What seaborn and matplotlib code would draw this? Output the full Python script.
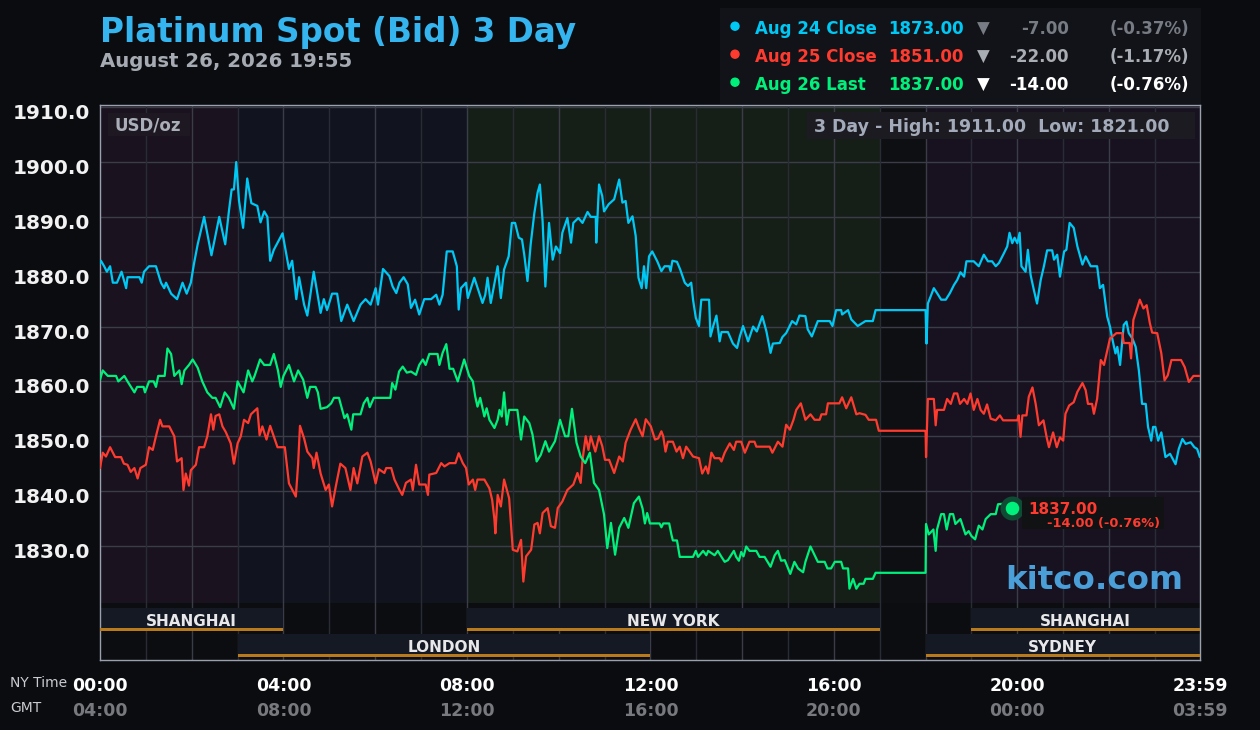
import matplotlib
matplotlib.use("Agg")
import matplotlib.pyplot as plt
import matplotlib.transforms as mtransforms
from matplotlib.patches import Rectangle, Ellipse
import seaborn as sns
import pandas as pd

# ---- price data, NY time (hours) vs USD/oz ----
aug24_t = [0.00, 0.02, 0.09, 0.15, 0.22, 0.28, 0.37, 0.47, 0.57, 0.60,
           0.86, 0.91, 0.96, 1.07, 1.22, 1.33, 1.40, 1.44, 1.55, 1.68,
           1.80, 1.89, 1.98, 2.05, 2.13, 2.27, 2.43, 2.60, 2.73, 2.81,
           2.87, 2.92, 2.97, 3.03, 3.12, 3.21, 3.30, 3.43, 3.50, 3.58,
           3.65, 3.71, 3.79, 3.98, 4.12, 4.19, 4.28, 4.34, 4.45, 4.52,
           4.66, 4.81, 4.88, 4.95, 5.06, 5.17, 5.26, 5.39, 5.53, 5.68,
           5.79, 5.90, 6.01, 6.06, 6.17,
           6.31, 6.38, 6.46, 6.53, 6.62, 6.71, 6.78, 6.87, 6.96, 7.07,
           7.22, 7.33, 7.40, 7.47, 7.56, 7.69, 7.78, 7.82, 7.87, 7.98,
           8.02, 8.16, 8.27, 8.34, 8.40, 8.45, 8.52, 8.67, 8.74, 8.81,
           8.91, 8.98, 9.05, 9.13, 9.20, 9.25, 9.32, 9.39, 9.47, 9.54,
           9.59, 9.65, 9.71, 9.79, 9.87, 9.94, 10.03, 10.08, 10.19, 10.27,
           10.32, 10.43, 10.52, 10.63, 10.70, 10.81, 10.82, 10.88, 10.95, 10.99,
           11.09, 11.21, 11.32, 11.39, 11.46, 11.52, 11.61, 11.68, 11.74, 11.81,
           11.86, 11.91, 11.97, 12.04, 12.15,
           12.24, 12.31, 12.41, 12.44, 12.48, 12.58, 12.65, 12.75, 12.82, 12.89,
           12.93, 12.99, 13.06, 13.11, 13.28, 13.31, 13.37, 13.44, 13.51, 13.55,
           13.69, 13.80, 13.89, 13.95, 14.02, 14.13, 14.24, 14.32, 14.44, 14.53,
           14.62, 14.67, 14.82, 14.88, 14.96, 15.09, 15.18, 15.25, 15.38, 15.43,
           15.52, 15.65, 15.91, 15.97, 16.05, 16.16, 16.18, 16.31, 16.38, 16.52,
           16.69, 16.85, 16.91, 16.98, 17.98, 18.00, 18.02, 18.05, 18.11, 18.18,
           18.25, 18.34, 18.44, 18.53, 18.62, 18.69, 18.76, 18.84, 18.89, 19.05,
           19.16, 19.27, 19.36, 19.45, 19.53, 19.60, 19.71, 19.78, 19.83, 19.89,
           19.94, 20.00, 20.05, 20.09, 20.18, 20.23, 20.29, 20.36, 20.43, 20.51,
           20.58, 20.65, 20.76, 20.80, 20.87, 20.93, 21.02, 21.07, 21.14, 21.23,
           21.31, 21.42, 21.49, 21.60, 21.74, 21.80, 21.87, 21.96, 22.02, 22.07,
           22.14, 22.18, 22.24, 22.32, 22.38, 22.43, 22.51, 22.58, 22.65, 22.72,
           22.80, 22.85, 22.92, 22.96, 23.01, 23.07, 23.14, 23.23, 23.33, 23.45,
           23.52, 23.60, 23.67, 23.78, 23.86, 23.92, 23.98]
aug24_v = [1881.5, 1882, 1881, 1880, 1881, 1878, 1878, 1880, 1877, 1879,
           1879, 1878, 1880, 1881, 1881, 1878, 1877, 1878, 1876, 1875,
           1878, 1876, 1878, 1881.5, 1885, 1890, 1883, 1890, 1885, 1891,
           1895, 1895, 1900, 1893, 1888, 1897, 1892.5, 1892, 1889, 1891,
           1890, 1882, 1884, 1887, 1880.5, 1882, 1875, 1879, 1874, 1872,
           1880, 1872.5, 1875, 1873, 1876, 1876, 1871, 1874, 1871, 1874,
           1875, 1874, 1877, 1874, 1880.5,
           1879.2, 1877.3, 1876.1, 1878, 1879, 1877.7, 1873.4, 1874.9, 1872.2, 1875,
           1875, 1875.8, 1874, 1875.8, 1883.7, 1883.7, 1881, 1873.1, 1877, 1878,
           1875.2, 1878.9, 1876.1, 1874.3, 1875.8, 1878.9, 1874.3, 1881, 1875.2, 1880.4,
           1882.8, 1888.9, 1888.9, 1886.2, 1885.9, 1883.1, 1878.3, 1885, 1890.7, 1894.4,
           1895.9, 1889.2, 1877.3, 1888.9, 1882.2, 1884.6, 1883.4, 1887.1, 1889.8, 1885.3,
           1888.9, 1889.8, 1888.9, 1890.9, 1890, 1890, 1885.3, 1895.9, 1893.8, 1891,
           1892.3, 1893.2, 1896.8, 1892.6, 1892.9, 1888.9, 1890.1, 1886.5, 1878.9, 1877,
           1881, 1877, 1882.8, 1883.7, 1881.9,
           1880.1, 1881, 1881, 1880.1, 1882, 1881.8, 1880.4, 1878, 1877.4, 1878,
           1874.9, 1871.6, 1870.1, 1874.9, 1874.9, 1868.2, 1870.1, 1872, 1867.3, 1869,
           1869, 1866.9, 1866.1, 1868.2, 1870.1, 1867.3, 1870, 1869.1, 1871.9, 1869.1,
           1865.2, 1866.9, 1867, 1868.1, 1868.8, 1871, 1870.4, 1872, 1871.9, 1869.5,
           1868.2, 1871, 1871, 1870.1, 1873, 1873, 1872.2, 1873, 1871.3, 1870.1,
           1871, 1871, 1873, 1873, 1873, 1873, 1866.9, 1874.2, 1875.5, 1877,
           1876.1, 1874.9, 1874.9, 1876.1, 1877.6, 1878.5, 1879.9, 1879.1, 1881.9, 1881.9,
           1881, 1883.1, 1881.9, 1881.9, 1881, 1881.6, 1883.4, 1884.6, 1887.1, 1885.2,
           1886.2, 1885.2, 1887.1, 1881, 1880, 1884, 1879.4, 1876.7, 1874.2, 1878.5,
           1881, 1883.9, 1883.9, 1882.2, 1883.1, 1879.1, 1883.7, 1884, 1888.9, 1888,
           1884.6, 1881.3, 1882.8, 1881, 1881, 1877, 1877.6, 1871.8, 1870, 1867.8,
           1865.1, 1866.3, 1863, 1870.3, 1870.9, 1868.8, 1867.8, 1866.3, 1862, 1855.9,
           1855.9, 1851.7, 1849.2, 1851.7, 1851.7, 1849.2, 1850.7, 1846.2, 1846.8, 1844.9,
           1847.7, 1849.5, 1848.6, 1848.9, 1848, 1847.7, 1846.2]

aug25_t = [0.00, 0.06, 0.13, 0.22, 0.33, 0.46, 0.52, 0.60, 0.67, 0.75,
           0.82, 0.88, 1.00, 1.07, 1.15, 1.22, 1.31, 1.36, 1.51, 1.62,
           1.68, 1.78, 1.82, 1.87, 1.94, 1.98, 2.09, 2.16, 2.27, 2.34,
           2.42, 2.47, 2.52, 2.60, 2.67, 2.74, 2.85, 2.92, 3.00, 3.07,
           3.14, 3.23, 3.29, 3.43, 3.48, 3.54, 3.63, 3.71, 3.87, 4.03,
           4.12, 4.27, 4.32, 4.36, 4.45, 4.52, 4.63, 4.66, 4.72, 4.81,
           4.92, 4.99, 5.06, 5.14, 5.24, 5.35, 5.46, 5.53, 5.61, 5.72,
           5.83, 5.90, 6.01, 6.08, 6.20, 6.24, 6.35, 6.42, 6.53, 6.59,
           6.67, 6.78, 6.82, 6.89, 6.96, 7.10, 7.15, 7.18, 7.33, 7.44,
           7.51, 7.62, 7.75, 7.82, 7.91, 7.98, 8.04, 8.13, 8.18, 8.23,
           8.38, 8.49, 8.55, 8.60, 8.62, 8.67, 8.74, 8.81, 8.92, 9.00,
           9.10, 9.18, 9.23, 9.29, 9.40, 9.47, 9.54, 9.59, 9.65, 9.76,
           9.83, 9.92, 9.98, 10.08, 10.19, 10.32, 10.41, 10.48, 10.52, 10.59,
           10.65, 10.70, 10.80, 10.88, 10.95, 11.01, 11.10, 11.21, 11.32, 11.40,
           11.46, 11.57, 11.68, 11.75, 11.83, 11.90, 12.01, 12.10, 12.17, 12.24,
           12.28, 12.33, 12.38, 12.49, 12.57, 12.64, 12.71, 12.78, 12.93, 13.06,
           13.13, 13.21, 13.26, 13.33, 13.40, 13.51, 13.55, 13.62, 13.73, 13.82,
           13.87, 13.98, 14.06, 14.16, 14.27, 14.31, 14.60, 14.66, 14.78, 14.88,
           14.96, 15.04, 15.12, 15.18, 15.28, 15.38, 15.49, 15.58, 15.69, 15.73,
           15.83, 15.87, 16.12, 16.18, 16.27, 16.38, 16.45, 16.49, 16.56, 16.69,
           16.76, 16.92, 16.98, 17.98, 18.00, 18.01, 18.05, 18.18, 18.22, 18.25,
           18.40, 18.47, 18.55, 18.62, 18.69, 18.75, 18.84, 18.91, 18.98, 19.05,
           19.13, 19.20, 19.27, 19.34, 19.42, 19.53, 19.62, 19.69, 20.00, 20.03,
           20.07, 20.11, 20.20, 20.25, 20.33, 20.40, 20.47, 20.57, 20.64, 20.69,
           20.78, 20.86, 20.93, 21.00, 21.05, 21.13, 21.23, 21.31, 21.42, 21.49,
           21.54, 21.63, 21.67, 21.74, 21.82, 21.89, 22.02, 22.16, 22.29, 22.32,
           22.45, 22.48, 22.53, 22.60, 22.67, 22.75, 22.82, 22.89, 22.94, 23.05,
           23.14, 23.21, 23.28, 23.36, 23.57, 23.65, 23.74, 23.84, 23.98]
aug25_v = [1844.2, 1847, 1846.3, 1848, 1846.2, 1846.2, 1845, 1844.8, 1843.5, 1844.2,
           1842.3, 1844.2, 1844.8, 1848, 1847.5, 1850, 1853, 1851.8, 1851.8, 1850,
           1845.4, 1846, 1840.2, 1843.2, 1841, 1843.8, 1844.8, 1848, 1848, 1850,
           1854, 1851.2, 1853.7, 1854, 1851.8, 1850.8, 1848.7, 1845, 1848.7, 1850,
           1853, 1852.4, 1854, 1855.1, 1850.2, 1851.8, 1849.4, 1851.9, 1848, 1848,
           1841.4, 1839, 1845, 1851.9, 1849.6, 1847.2, 1846, 1844.2, 1847, 1843.2,
           1840.2, 1841.2, 1837.2, 1840.8, 1845, 1844.2, 1840.2, 1844.2, 1841.4, 1846.3,
           1847, 1845.4, 1841.4, 1844, 1843.3, 1844.2, 1844.2, 1842.1, 1840.2, 1839.3,
           1841.5, 1842.1, 1840.2, 1844.8, 1841.2, 1841.2, 1839.3, 1843, 1843.3, 1845.1,
           1844.5, 1845.1, 1845.1, 1846.9, 1845.1, 1844.2, 1841.2, 1842.1, 1840.2, 1842.1,
           1842.1, 1840.5, 1838.4, 1834.8, 1832.3, 1839.3, 1837.2, 1842.1, 1838.7, 1829.3,
           1829, 1831.1, 1823.5, 1828.1, 1829.3, 1833.9, 1834.2, 1832.3, 1836, 1836.9,
           1833.6, 1833.3, 1836.9, 1838.1, 1840.2, 1841.2, 1843.3, 1841.5, 1845.7, 1850,
           1847.5, 1850, 1847.2, 1850, 1848.2, 1845.7, 1845.7, 1843.3, 1846.3, 1845.4,
           1848.8, 1851.2, 1853.1, 1851.5, 1850, 1853.1, 1851.8, 1849.4, 1849.6, 1850.9,
           1850, 1847.2, 1849, 1849, 1847.2, 1848.1, 1846, 1848.1, 1846.3, 1846,
           1843.2, 1844.5, 1843.2, 1847, 1846, 1846, 1845.4, 1847, 1848.7, 1847.5,
           1849, 1849, 1847, 1849, 1849, 1848.1, 1848.1, 1847, 1849, 1848.1,
           1852.1, 1851.2, 1853, 1854.8, 1856, 1853, 1854, 1853, 1853, 1854,
           1854, 1856, 1856, 1857.1, 1855.1, 1857.1, 1855.1, 1854, 1854.2, 1853.9,
           1853, 1853, 1851, 1851, 1850.9, 1846.2, 1856.8, 1856.8, 1852, 1854.8,
           1854.8, 1856.8, 1855.9, 1857.8, 1857.8, 1855.9, 1856.8, 1855.9, 1857.8, 1854.8,
           1856.8, 1854.8, 1854.1, 1855.8, 1853.2, 1852.9, 1853.8, 1852.9, 1852.9, 1853.8,
           1849.9, 1853.8, 1853.8, 1857.2, 1858.9, 1855.9, 1852, 1852.9, 1849.8, 1848,
           1850.7, 1848, 1849.8, 1849.2, 1854.1, 1855.6, 1856.2, 1858.1, 1859.7, 1858.4,
           1855.9, 1855.9, 1854.1, 1856.8, 1863.9, 1863, 1867.8, 1868.8, 1868.8, 1867,
           1867, 1864.2, 1871.2, 1873, 1874.9, 1873.3, 1873.9, 1870.6, 1868.9, 1868.8,
           1865.1, 1860.2, 1861.1, 1863.9, 1863.9, 1862.6, 1859.9, 1861, 1861]

aug26_t = [0.00, 0.06, 0.17, 0.35, 0.40, 0.53, 0.60, 0.75, 0.81, 0.95,
           0.98, 1.07, 1.17, 1.22, 1.27, 1.41, 1.47, 1.55, 1.62, 1.73,
           1.78, 1.84, 1.94, 2.02, 2.13, 2.23, 2.34, 2.45, 2.52, 2.62,
           2.72, 2.81, 2.92, 3.00, 3.13, 3.23, 3.32, 3.37, 3.49, 3.58,
           3.71, 3.79, 3.88, 3.94, 4.00, 4.12, 4.23, 4.32, 4.43, 4.52,
           4.58, 4.70, 4.75, 4.81, 4.95, 5.04, 5.10, 5.21, 5.33, 5.39,
           5.48, 5.52, 5.68, 5.75, 5.83, 5.88, 5.97, 6.33, 6.37, 6.44,
           6.52, 6.60, 6.69, 6.78, 6.89, 6.96, 7.04, 7.10, 7.18, 7.36,
           7.40, 7.47, 7.55, 7.62, 7.70, 7.80, 7.94, 8.05, 8.13, 8.18,
           8.23, 8.29, 8.38, 8.43, 8.49, 8.60, 8.67, 8.71, 8.76, 8.81,
           8.87, 8.92, 9.10, 9.18, 9.25, 9.36, 9.43, 9.52, 9.61, 9.71,
           9.79, 9.92, 10.03, 10.14, 10.21, 10.29, 10.39, 10.48, 10.58, 10.68,
           10.77, 10.88, 10.99, 11.06, 11.14, 11.23, 11.32, 11.43, 11.52, 11.64,
           11.75, 11.83, 11.88, 11.93, 11.99, 12.20, 12.24, 12.28, 12.41, 12.46,
           12.49, 12.58, 12.64, 12.93, 12.99, 13.04, 13.15, 13.22, 13.26, 13.40,
           13.47, 13.55, 13.62, 13.69, 13.82, 13.87, 13.93, 13.98, 14.03, 14.09,
           14.16, 14.31, 14.38, 14.49, 14.62, 14.71, 14.78, 14.85, 14.93, 15.05,
           15.14, 15.22, 15.33, 15.38, 15.49, 15.65, 15.80, 15.86, 15.94, 16.02,
           16.16, 16.20, 16.31, 16.34, 16.42, 16.49, 16.56, 16.65, 16.69, 16.85,
           16.91, 17.98, 18.00, 18.01, 18.07, 18.17, 18.22, 18.25, 18.34, 18.40,
           18.46, 18.53, 18.60, 18.65, 18.76, 18.87, 18.94, 19.00, 19.08, 19.16,
           19.24, 19.31, 19.42, 19.53, 19.58, 19.71, 19.89]
aug26_v = [1860.3, 1862, 1861, 1861, 1860, 1861, 1860, 1858, 1859, 1859,
           1858, 1860, 1860, 1859, 1861, 1861, 1866, 1865, 1861, 1862,
           1859.5, 1862, 1863, 1864, 1862.5, 1860, 1858, 1857, 1857, 1855.3,
           1858, 1857, 1855, 1860, 1858, 1862, 1860, 1861, 1864, 1863,
           1863, 1865, 1862, 1859, 1861, 1863, 1860, 1862, 1860.3, 1857,
           1859, 1859, 1858, 1855, 1855.3, 1856, 1857, 1857, 1853.3, 1854,
           1851.2, 1854, 1854, 1856, 1857, 1855.3, 1857, 1857, 1859.7, 1858.5,
           1861.8, 1862.7, 1861.6, 1861.8, 1861.2, 1863, 1864, 1863, 1865, 1865,
           1863, 1865.2, 1866.8, 1862.3, 1862.3, 1860, 1864, 1861, 1860, 1857.3,
           1855.4, 1857, 1853.6, 1855.1, 1853, 1851.5, 1853, 1854.8, 1853.6, 1858,
           1852.1, 1854.8, 1854.8, 1849.4, 1853.6, 1852.4, 1850.3, 1845.4, 1846.6, 1849.1,
           1847.2, 1849.1, 1853, 1850, 1850, 1855, 1848.8, 1846.3, 1845.1, 1847,
           1841.5, 1840.2, 1835.7, 1829.6, 1834.2, 1828.4, 1833.3, 1835.1, 1833.3, 1837.8,
           1839, 1836.8, 1834.1, 1836, 1834.1, 1834.1, 1833.4, 1834.1, 1834.1, 1832,
           1831, 1831, 1828, 1828, 1829.1, 1828, 1829.1, 1828.3, 1829.1, 1828.3,
           1829.1, 1828, 1827.1, 1827.4, 1829.1, 1828, 1827.3, 1828.9, 1828.1, 1829.9,
           1829.1, 1829.1, 1828, 1828, 1826.2, 1828.3, 1829.1, 1827.3, 1827.4, 1824.9,
           1827.1, 1825.9, 1825.2, 1827.1, 1829.9, 1827.1, 1827.1, 1825.9, 1825.9, 1827.1,
           1827.1, 1825.9, 1825.9, 1822.2, 1824, 1822.2, 1823.1, 1823.1, 1824, 1824,
           1825.1, 1825.1, 1825.1, 1834, 1832.1, 1833, 1829.1, 1833, 1835.8, 1835.8,
           1833, 1835.8, 1835.8, 1834, 1834.9, 1832.1, 1832.7, 1831.8, 1831.2, 1833.7,
           1833, 1834.9, 1835.8, 1835.8, 1837.6, 1837.7, 1837]

series_names = ["Aug 24 Close", "Aug 25 Close", "Aug 26 Last"]
series_colors = ["#00c8f5", "#ff3b2f", "#00f07c"]
legend_price = ["1873.00", "1851.00", "1837.00"]
legend_change = ["-7.00", "-22.00", "-14.00"]
legend_pct = ["(-0.37%)", "(-1.17%)", "(-0.76%)"]
legend_dim = ["#767b84", "#a9adb4", "#ffffff"]

yticks = [1830, 1840, 1850, 1860, 1870, 1880, 1890, 1900, 1910]
xticks = [0, 4, 8, 12, 16, 20, 23.983]
ny_labels = ["00:00", "04:00", "08:00", "12:00", "16:00", "20:00", "23:59"]
gmt_labels = ["04:00", "08:00", "12:00", "16:00", "20:00", "00:00", "03:59"]

# background zones (NY hours)
zones = [(0, 3, "#1a121f"), (3, 8, "#11141f"), (8, 17, "#161e18"),
         (17, 18, "#0e0f13"), (18, 23.983, "#181220")]
# market sessions: name, start, end, row
sessions = [("SHANGHAI", 0, 4, 0), ("NEW YORK", 8, 17, 0), ("SHANGHAI", 19, 23.983, 0),
            ("LONDON", 3, 12, 1), ("SYDNEY", 18, 23.983, 1)]

BG = "#0b0c10"
W, H = 1260, 730

df = pd.concat([
    pd.DataFrame({"hour": t, "price": v, "day": n})
    for t, v, n in zip([aug24_t, aug25_t, aug26_t], [aug24_v, aug25_v, aug26_v], series_names)
])

sns.set_theme(style="dark")
plt.rcParams["font.family"] = ["DejaVu Sans"]

fig = plt.figure(figsize=(W / 100, H / 100), dpi=100, facecolor=BG)
ax = fig.add_axes([100 / W, 70 / H, 1100 / W, 555 / H])
ax.set_facecolor("#0c0d11")
ax.set_xlim(0, 23.983)
ax.set_ylim(1809.2, 1910.4)
ax.grid(False)

def fx(x): return x / W
def fy(y): return 1 - y / H

band_top = (660 - 603) / 555
for x0, x1, c in zones:
    ax.axvspan(x0, x1, ymin=band_top, ymax=1, color=c, lw=0, zorder=0)

for y in yticks:
    ax.axhline(y, color="#3a3d47", lw=1, zorder=1)
for h in range(1, 24):
    ax.axvline(h, color="#3a3d48" if h % 2 == 0 else "#2a2c35", lw=1, zorder=1)

trans = mtransforms.blended_transform_factory(ax.transData, ax.transAxes)
rows = [(608, 631), (634, 657)]
for name, s, e, r in sessions:
    top, bot = rows[r]
    ax.add_patch(Rectangle((s, (660 - bot) / 555), e - s, (bot - top) / 555,
                           transform=trans, color="#141923", lw=0, zorder=2))
    ax.text((s + e) / 2, (660 - (top + bot) / 2 - 2) / 555, name, transform=trans,
            ha="center", va="center", color="#e8e8ea", fontsize=11, fontweight="bold", zorder=3)
    ax.add_patch(Rectangle((s, (660 - bot) / 555), e - s, 3.5 / 555,
                           transform=trans, color="#b87a1a", lw=0, zorder=4))

sns.lineplot(data=df, x="hour", y="price", hue="day", hue_order=series_names,
             palette=series_colors, estimator=None, sort=False, legend=False,
             linewidth=1.6, ax=ax, zorder=5)

# last price marker
lx, ly = aug26_t[-1], aug26_v[-1]
ax.scatter([lx], [ly], s=300, color="#0e4d33", zorder=6, linewidths=0)
ax.scatter([lx], [ly], s=95, color="#00f07c", zorder=7, linewidths=0)

for sp in ax.spines.values():
    sp.set_color("#9aa1ae")
    sp.set_linewidth(1)

ax.set_xlabel("")
ax.set_ylabel("")
ax.set_yticks(yticks)
ax.set_yticklabels([f"{y:.1f}" for y in yticks])
ax.set_xticks(xticks)
ax.set_xticklabels(ny_labels)
ax.tick_params(axis="y", length=0, pad=7, labelsize=14.5, labelcolor="#f2f2f2")
ax.tick_params(axis="x", length=0, pad=12, labelsize=12.5, labelcolor="#ffffff")
for lab in ax.get_yticklabels():
    lab.set_fontweight("bold")
    lab.set_transform(lab.get_transform() + mtransforms.ScaledTranslation(0, -0.045, fig.dpi_scale_trans))
for lab in ax.get_xticklabels():
    lab.set_fontweight("bold")

for x, lab in zip(xticks, gmt_labels):
    ax.text(x, -51 / 555, lab, transform=trans, ha="center", va="center",
            color="#77797e", fontsize=12.5, fontweight="bold")
fig.text(fx(10), fy(683), "NY Time", ha="left", va="center", color="#c9cbd0", fontsize=10)
fig.text(fx(10), fy(708), "GMT", ha="left", va="center", color="#c9cbd0", fontsize=10)

# title
fig.text(fx(100), fy(41.7), "Platinum Spot (Bid) 3 Day", ha="left", va="baseline",
         color="#35b5ef", fontsize=23.5, fontweight="bold")
fig.text(fx(100), fy(66.7), "August 26, 2026 19:55", ha="left", va="baseline",
         color="#a6aab2", fontsize=14.2, fontweight="bold")

# legend panel
fig.add_artist(Rectangle((fx(720), fy(104)), 481 / W, 96 / H, transform=fig.transFigure,
                         color="#121318", lw=0, zorder=1))
for i in range(3):
    yb = 33.7 + 28 * i
    c = series_colors[i]
    fig.add_artist(Ellipse((fx(735), fy(yb - 7.5)), 8 / W, 8 / H, transform=fig.transFigure,
                           color=c, zorder=3))
    fig.text(fx(755), fy(yb), series_names[i], ha="left", va="baseline", color=c,
             fontsize=12, fontweight="bold")
    fig.text(fx(964), fy(yb), legend_price[i], ha="right", va="baseline", color=c,
             fontsize=12, fontweight="bold")
    fig.text(fx(983), fy(yb), "\u25bc", ha="center", va="baseline", color=legend_dim[i],
             fontsize=12, fontweight="bold")
    fig.text(fx(1069), fy(yb), legend_change[i], ha="right", va="baseline",
             color=legend_dim[i], fontsize=12, fontweight="bold")
    fig.text(fx(1189), fy(yb), legend_pct[i], ha="right", va="baseline",
             color=legend_dim[i], fontsize=12, fontweight="bold")

# in-plot labels
fig.add_artist(Rectangle((fx(108), fy(136)), 82 / W, 23 / H, transform=fig.transFigure,
                         color="#1e1822", lw=0, zorder=2))
fig.text(fx(115), fy(130.7), "USD/oz", ha="left", va="baseline", color="#a9aeb8",
         fontsize=12, fontweight="bold", zorder=3)
fig.add_artist(Rectangle((fx(807), fy(139)), 388 / W, 27 / H, transform=fig.transFigure,
                         color="#1d1b22", lw=0, zorder=2))
fig.text(fx(813.6), fy(131.7), "3 Day - High: 1911.00  Low: 1821.00", ha="left",
         va="baseline", color="#a3abba", fontsize=12.5, fontweight="bold", zorder=3)

fig.add_artist(Rectangle((fx(1022), fy(529)), 142 / W, 32 / H, transform=fig.transFigure,
                         color="#111214", lw=0, zorder=2))
fig.text(fx(1028), fy(514), legend_price[2], ha="left", va="baseline", color="#ff3b30",
         fontsize=11, fontweight="bold", zorder=3)
fig.text(fx(1046.7), fy(526.7), f"{legend_change[2]} {legend_pct[2]}", ha="left",
         va="baseline", color="#ff3b30", fontsize=9.3, fontweight="bold", zorder=3)

fig.text(fx(1005), fy(589.3), "kitco.com", ha="left", va="baseline", color="#4a9fd8",
         fontsize=23.4, fontweight="bold", zorder=3)

fig.savefig("out.png", dpi=100, facecolor=BG)
